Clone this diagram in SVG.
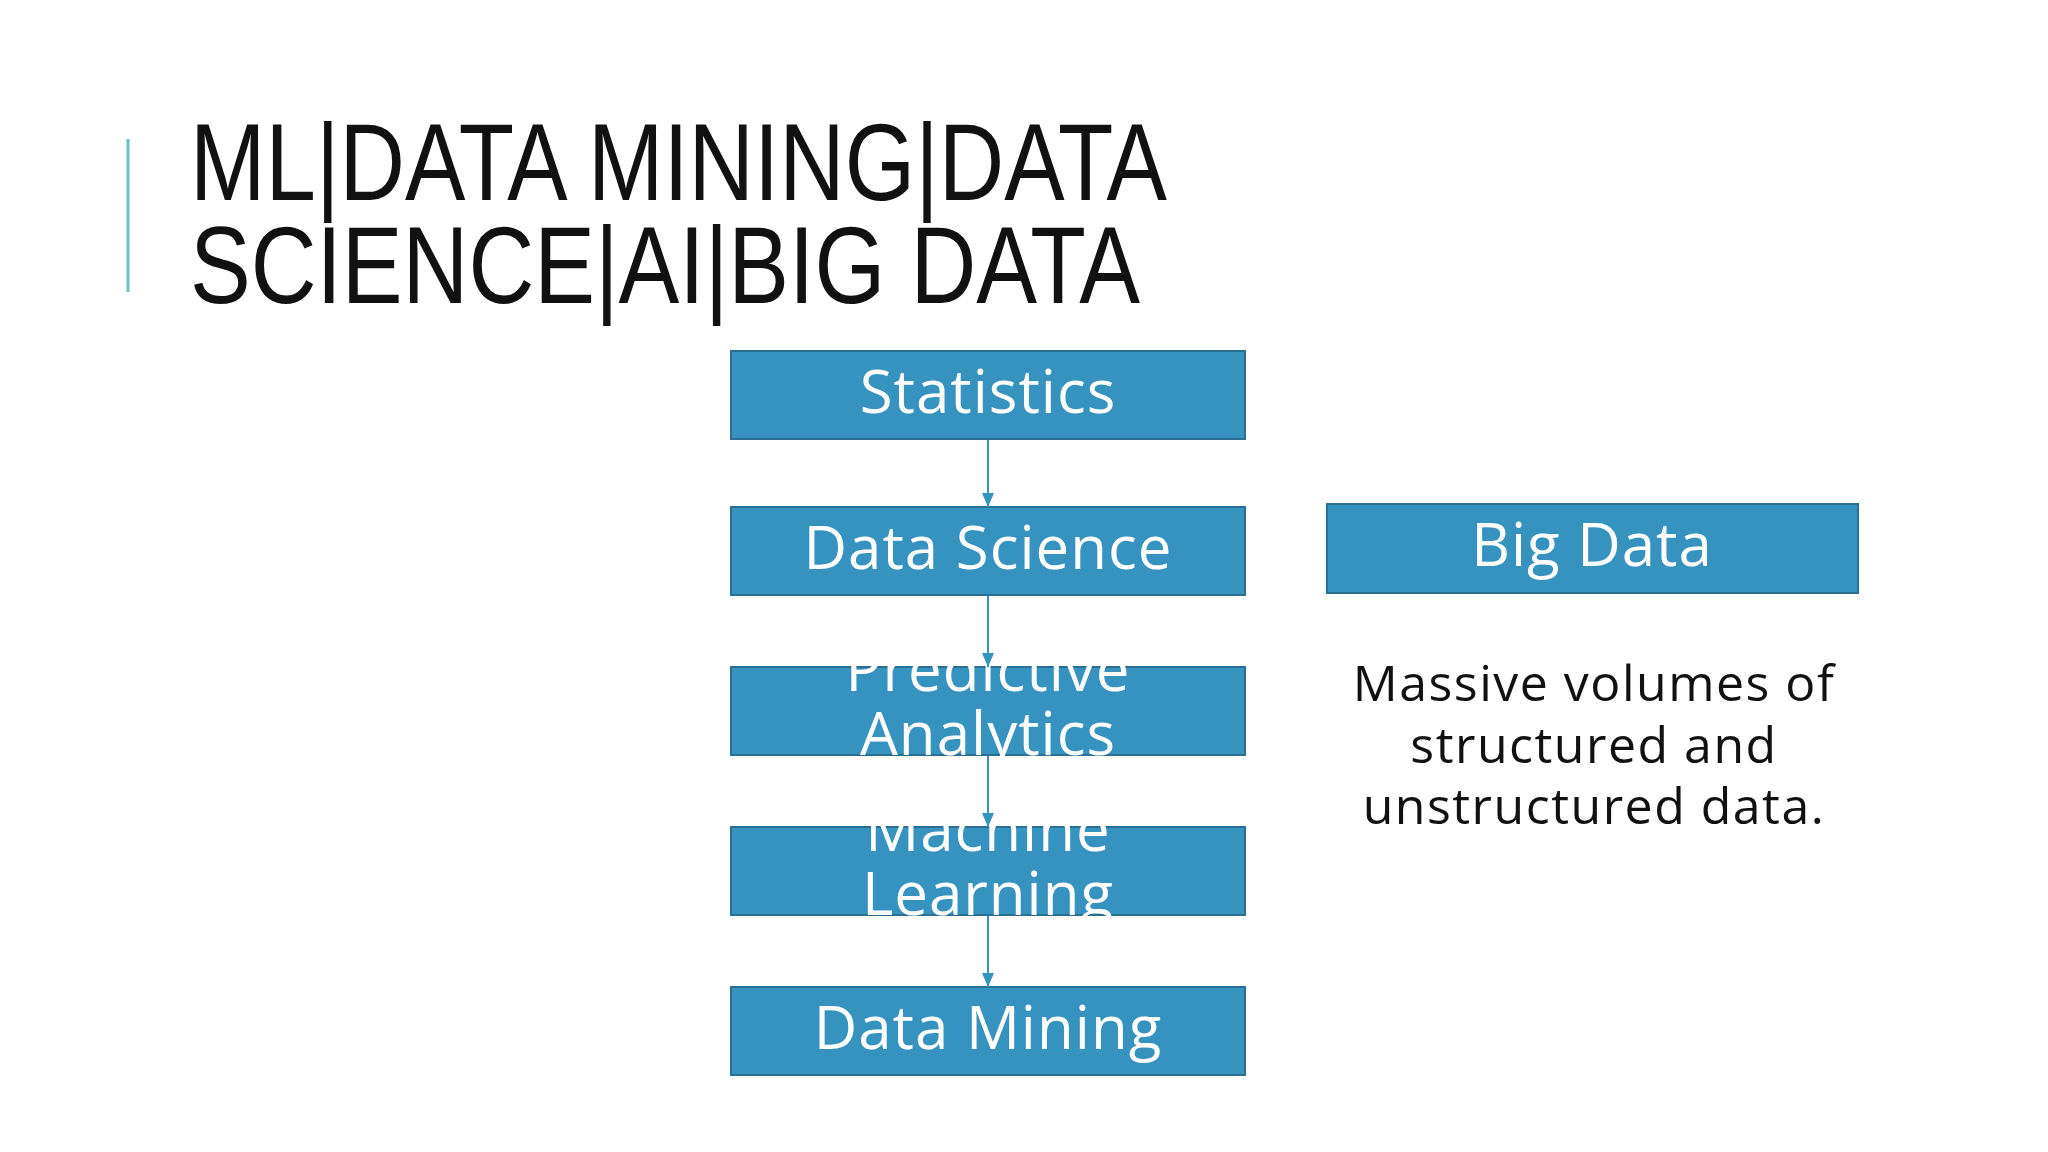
<svg xmlns="http://www.w3.org/2000/svg" width="2048" height="1152" viewBox="0 0 2048 1152">
  <defs>
    <style>
      .box { fill: #3692be; stroke: #2b6f93; stroke-width: 2; }
      .lbl { font-family: "Open Sans", "Noto Sans", sans-serif; font-size: 60px; fill: #ffffff; text-anchor: middle; letter-spacing: 1px; }
      .title { font-family: "Liberation Sans", Arial, sans-serif; font-size: 109px; fill: #111111; }
      .desc { font-family: "Open Sans", "Noto Sans", sans-serif; font-size: 50px; fill: #111111; text-anchor: middle; letter-spacing: 1.5px; }
      .conn { stroke: #3692be; stroke-width: 2; fill: none; marker-end: url(#arrow); }
    </style>
    <marker id="arrow" viewBox="0 0 14 12" refX="14" refY="6" markerWidth="14" markerHeight="12" markerUnits="userSpaceOnUse" orient="auto">
      <path d="M0,0 L14,6 L0,12 Z" fill="#3692be"/>
    </marker>
  </defs>
  <rect width="2048" height="1152" fill="#ffffff"/>

  <g id="title">
    <line x1="128" y1="139" x2="128" y2="292" stroke="#6cbfc5" stroke-width="3"/>
    <text class="title" x="190" y="200" textLength="977" lengthAdjust="spacingAndGlyphs">ML|DATA MINING|DATA</text>
    <text class="title" x="190" y="303" textLength="950" lengthAdjust="spacingAndGlyphs">SCIENCE|AI|BIG DATA</text>
  </g>

  <g id="node-statistics">
    <rect class="box" x="731" y="351" width="514" height="88"/>
    <text class="lbl" x="988" y="413">Statistics</text>
  </g>
  <g id="node-data-science">
    <rect class="box" x="731" y="507" width="514" height="88"/>
    <text class="lbl" x="988" y="569">Data Science</text>
  </g>
  <g id="node-predictive-analytics">
    <rect class="box" x="731" y="667" width="514" height="88"/>
    <text class="lbl" x="988" y="691">Predictive</text>
    <text class="lbl" x="988" y="755">Analytics</text>
  </g>
  <g id="node-machine-learning">
    <rect class="box" x="731" y="827" width="514" height="88"/>
    <text class="lbl" x="988" y="851">Machine</text>
    <text class="lbl" x="988" y="915">Learning</text>
  </g>
  <g id="node-data-mining">
    <rect class="box" x="731" y="987" width="514" height="88"/>
    <text class="lbl" x="988" y="1049">Data Mining</text>
  </g>
  <g id="node-big-data">
    <rect class="box" x="1327" y="504" width="531" height="89"/>
    <text class="lbl" x="1592" y="566">Big Data</text>
  </g>
  <g id="big-data-description">
    <text class="desc" x="1594" y="701">Massive volumes of</text>
    <text class="desc" x="1594" y="763">structured and</text>
    <text class="desc" x="1594" y="824">unstructured data.</text>
  </g>

  <g id="connectors">
    <line class="conn" x1="988" y1="440" x2="988" y2="507"/>
    <line class="conn" x1="988" y1="596" x2="988" y2="667"/>
    <line class="conn" x1="988" y1="756" x2="988" y2="827"/>
    <line class="conn" x1="988" y1="916" x2="988" y2="987"/>
  </g>
</svg>
